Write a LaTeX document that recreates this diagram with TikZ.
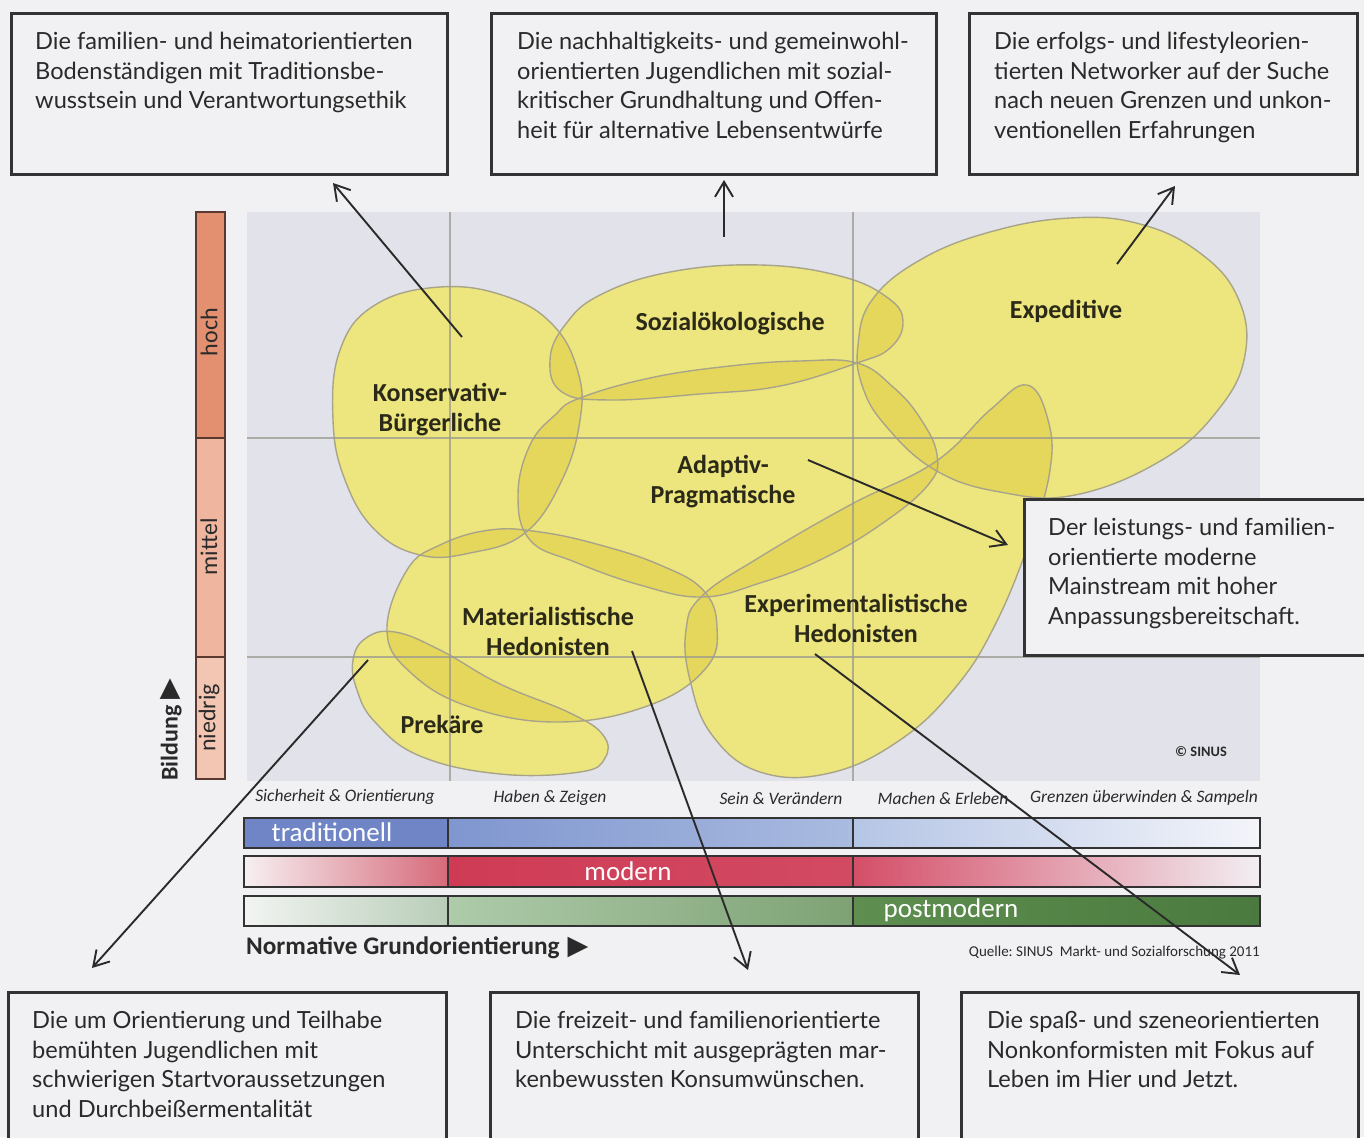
\documentclass[tikz,border=0pt]{standalone}
\usepackage{fontspec}
\setmainfont{Lato}
\newfontfamily\calibri{Carlito}
\newfontfamily\symf{DejaVu Sans}
\usetikzlibrary{arrows.meta}
\definecolor{pagebg}{HTML}{F1F1F3}
\definecolor{chartbg}{HTML}{E2E3EA}
\definecolor{blobbase}{HTML}{FAFBB2}
\definecolor{blobdark}{HTML}{D7BE1E}
\definecolor{blobline}{HTML}{A8A48A}
\definecolor{gridc}{HTML}{9A9A90}
\definecolor{boxline}{HTML}{333333}
\definecolor{txt}{HTML}{2A2A2A}
\definecolor{lbl}{HTML}{2B2A18}
\definecolor{hochc}{HTML}{E2906F}
\definecolor{mittelc}{HTML}{EFB59E}
\definecolor{niedrigc}{HTML}{F3C6B3}
\definecolor{barline}{HTML}{5A3A30}
\definecolor{tradblue}{HTML}{6F85C6}
\def\blobK{plot[smooth cycle, tension=0.7] coordinates {(440,287) (505,296) (553,325) (578,372) (580,420) (562,480) (525,533) (470,553) (420,555) (375,530) (345,480) (333,420) (340,350) (375,305)}}
\def\blobS{plot[smooth cycle, tension=0.7] coordinates {(550,360) (565,325) (600,295) (670,272) (760,265) (840,276) (888,298) (903,322) (890,348) (857,363) (780,386) (700,394) (610,400) (562,392)}}
\def\blobE{plot[smooth cycle, tension=0.7] coordinates {(858,345) (872,300) (920,260) (990,232) (1070,218) (1140,224) (1200,253) (1238,298) (1245,355) (1218,410) (1162,460) (1075,495) (1000,492) (935,470) (885,425) (862,385)}}
\def\blobA{plot[smooth cycle, tension=0.7] coordinates {(580,398) (650,378) (730,366) (800,361) (857,363) (893,387) (920,418) (937,455) (928,485) (880,525) (820,560) (760,583) (702,597) (640,585) (575,562) (530,540) (518,495) (530,445) (555,415)}}
\def\blobM{plot[smooth cycle, tension=0.7] coordinates {(407,570) (440,545) (490,530) (540,532) (600,545) (660,565) (703,590) (717,627) (706,668) (650,705) (560,722) (470,707) (410,672) (387,630)}}
\def\blobX{plot[smooth cycle, tension=0.7] coordinates {(1027,385) (1048,420) (1050,470) (1030,540) (995,625) (955,688) (900,740) (830,773) (760,772) (712,735) (690,680) (686,630) (702,596) (760,557) (850,505) (935,462) (990,410)}}
\def\blobP{plot[smooth cycle, tension=0.7] coordinates {(353,660) (366,638) (395,632) (440,650) (500,684) (570,713) (603,735) (605,758) (580,772) (500,774) (420,756) (375,722) (357,690)}}
\begin{document}
\begin{tikzpicture}[x=1pt,y=-1pt,
  infobox/.style={draw=boxline, line width=2.6pt, fill=pagebg, anchor=north west, inner sep=0pt},
  infotext/.style={anchor=north west, inner sep=0pt, align=left, text=txt, font=\fontsize{23.6}{29.7}\selectfont},
  blobfirst/.style={fill=blobbase},
  blobshade/.style={fill=blobdark, fill opacity=0.35},
  blobedge/.style={draw=blobline, line width=1.4pt},
  bloblabel/.style={font=\calibri\bfseries\fontsize{26}{30}\selectfont, text=lbl, align=center, inner sep=0pt},
  gridline/.style={draw=gridc, line width=1.3pt, opacity=0.75},
  axislabel/.style={font=\calibri\itshape\fontsize{17.5}{19}\selectfont, text=txt, inner sep=0pt},
  barbox/.style={draw=boxline, line width=1.6pt},
  bartext/.style={font=\calibri\fontsize{27}{30}\selectfont, text=white, inner sep=0pt},
  levelbox/.style={draw=barline, line width=1.4pt},
  leveltext/.style={font=\calibri\fontsize{24}{26}\selectfont, text=txt, rotate=90, inner sep=0pt},
  conn/.style={draw=txt, line width=1.9pt, -{Straight Barb[length=15pt,width=18pt,line width=1.9pt]}}
]
\useasboundingbox (0,0) rectangle (1364,1137);
\fill[pagebg] (0,0) rectangle (1364,1137);

% chart background
\fill[chartbg] (247,212) rectangle (1260,781);

% blobs: opaque base, translucent shade (darker overlaps), outlines
\foreach \b in {\blobK,\blobS,\blobE,\blobA,\blobM,\blobX,\blobP} {\path[blobfirst] \b;}
\foreach \b in {\blobK,\blobS,\blobE,\blobA,\blobM,\blobX,\blobP} {\path[blobshade] \b;}
\foreach \b in {\blobK,\blobS,\blobE,\blobA,\blobM,\blobX,\blobP} {\path[blobedge] \b;}

% grid lines
\draw[gridline] (450,212) -- (450,781);
\draw[gridline] (853,212) -- (853,781);
\draw[gridline] (247,438) -- (1260,438);
\draw[gridline] (247,657) -- (1260,657);

% blob labels
\node[bloblabel] (lk) at (440,410) {Konservativ-\\Bürgerliche};
\node[bloblabel] (ls) at (730,324) {Sozialökologische};
\node[bloblabel] (le) at (1066,311) {Expeditive};
\node[bloblabel] (la) at (723,482) {Adaptiv-\\Pragmatische};
\node[bloblabel] (lm) at (548,631) {Materialistische\\Hedonisten};
\node[bloblabel] (lx) at (856,618) {Experimentalistische\\Hedonisten};
\node[bloblabel] (lp) at (442,724) {Prekäre};
\node[font=\calibri\bfseries\fontsize{14.4}{16}\selectfont, text=txt, inner sep=0pt] (copy) at (1201,752) {© SINUS};

% education bar
\draw[levelbox, fill=hochc] (196,212) rectangle (225,438);
\draw[levelbox, fill=mittelc] (196,438) rectangle (225,657);
\draw[levelbox, fill=niedrigc] (196,657) rectangle (225,779);
\node[leveltext] (hoch) at (209,332) {hoch};
\node[leveltext] (mittel) at (209,547) {mittel};
\node[leveltext] (niedrig) at (209,718) {niedrig};
\node[font=\calibri\bfseries\fontsize{24}{26}\selectfont, text=txt, rotate=90, anchor=west, inner sep=0pt] (bildung) at (171,781) {Bildung\hspace{6pt}{\symf\fontsize{27}{28}\selectfont ▶}};

% value labels
\node[axislabel] (v1) at (345,797) {Sicherheit \& Orientierung};
\node[axislabel] (v2) at (550,798) {Haben \& Zeigen};
\node[axislabel] (v3) at (781,798) {Sein \& Verändern};
\node[axislabel] (v4) at (943,798) {Machen \& Erleben};
\node[axislabel] (v5) at (1144,798) {Grenzen überwinden \& Sampeln};

% bars
\fill[tradblue] (244,818) rectangle (448,848);
\shade[left color={rgb,255:red,127;green,150;blue,207}, right color={rgb,255:red,170;green,187;blue,224}] (448,818) rectangle (853,848);
\shade[left color={rgb,255:red,181;green,197;blue,229}, right color={rgb,255:red,244;green,245;blue,250}] (853,818) rectangle (1260,848);
\draw[barbox] (244,818) rectangle (1260,848) (448,818) -- (448,848) (853,818) -- (853,848);

\shade[left color={rgb,255:red,246;green,240;blue,242}, right color={rgb,255:red,214;green,106;blue,122}] (244,856) rectangle (448,887);
\shade[left color={rgb,255:red,207;green,59;blue,85}, right color={rgb,255:red,210;green,74;blue,98}] (448,856) rectangle (853,887);
\shade[left color={rgb,255:red,212;green,78;blue,104}, right color={rgb,255:red,242;green,238;blue,242}] (853,856) rectangle (1260,887);
\draw[barbox] (244,856) rectangle (1260,887) (448,856) -- (448,887) (853,856) -- (853,887);

\shade[left color={rgb,255:red,242;green,244;blue,242}, right color={rgb,255:red,184;green,205;blue,184}] (244,896) rectangle (448,926);
\shade[left color={rgb,255:red,174;green,203;blue,170}, right color={rgb,255:red,126;green,162;blue,116}] (448,896) rectangle (853,926);
\shade[left color={rgb,255:red,94;green,142;blue,80}, right color={rgb,255:red,75;green,122;blue,62}] (853,896) rectangle (1260,926);
\draw[barbox] (244,896) rectangle (1260,926) (448,896) -- (448,926) (853,896) -- (853,926);

\node[bartext] (trad) at (332,832) {traditionell};
\node[bartext] (mod) at (628,871) {modern};
\node[bartext] (post) at (951,910) {postmodern};

\node[font=\calibri\bfseries\fontsize{25.3}{28}\selectfont, text=txt, anchor=west, inner sep=0pt] (norm) at (246,948) {Normative Grundorientierung\hspace{8pt}{\symf\fontsize{27}{28}\selectfont ▶}};
\node[font=\calibri\fontsize{15}{17}\selectfont, text=txt, anchor=east, inner sep=0pt] (quelle) at (1260,953) {Quelle:\ SINUS\ \ Markt- und Sozialforschung 2011};

% info boxes
\node[infobox, minimum width=436pt, minimum height=161pt] (b1) at (10,12) {};
\node[infotext] (t1) at (35,32) {Die familien- und heimatorientierten\\Bodenständigen mit Traditionsbe-\\wusstsein und Verantwortungsethik};
\node[infobox, minimum width=445pt, minimum height=161pt] (b2) at (490,12) {};
\node[infotext] (t2) at (517,32) {Die nachhaltigkeits- und gemeinwohl-\\orientierten Jugendlichen mit sozial-\\kritischer Grundhaltung und Offen-\\heit für alternative Lebensentwürfe};
\node[infobox, minimum width=388pt, minimum height=161pt] (b3) at (968,12) {};
\node[infotext] (t3) at (994,32) {Die erfolgs- und lifestyleorien-\\tierten Networker auf der Suche\\nach neuen Grenzen und unkon-\\ventionellen Erfahrungen};
\node[infobox, minimum width=345pt, minimum height=156pt] (b4) at (1023,498) {};
\node[infotext] (t4) at (1048,518) {Der leistungs- und familien-\\orientierte moderne\\Mainstream mit hoher\\Anpassungsbereitschaft.};
\node[infobox, minimum width=438pt, minimum height=160pt] (b5) at (7,991) {};
\node[infotext] (t5) at (32,1011) {Die um Orientierung und Teilhabe\\bemühten Jugendlichen mit\\schwierigen Startvoraussetzungen\\und Durchbeißermentalität};
\node[infobox, minimum width=428pt, minimum height=160pt] (b6) at (489,991) {};
\node[infotext] (t6) at (515,1011) {Die freizeit- und familienorientierte\\Unterschicht mit ausgeprägten mar-\\kenbewussten Konsumwünschen.};
\node[infobox, minimum width=397pt, minimum height=160pt] (b7) at (960,991) {};
\node[infotext] (t7) at (987,1011) {Die spaß- und szeneorientierten\\Nonkonformisten mit Fokus auf\\Leben im Hier und Jetzt.};

% connectors
\coordinate (s1) at (462,337); \coordinate (e1) at (333,183);
\coordinate (s2) at (724,237); \coordinate (e2) at (724,180);
\coordinate (s3) at (1117,264); \coordinate (e3) at (1175,186);
\coordinate (s4) at (808,460); \coordinate (e4) at (1008,545);
\coordinate (s5) at (368,660); \coordinate (e5) at (92,968);
\coordinate (s6) at (632,651); \coordinate (e6) at (748,970);
\coordinate (s7) at (815,654); \coordinate (e7) at (1240,975);
\draw[conn] (s1) -- (e1);
\draw[conn] (s2) -- (e2);
\draw[conn] (s3) -- (e3);
\draw[conn] (s4) -- (e4);
\draw[conn] (s5) -- (e5);
\draw[conn] (s6) -- (e6);
\draw[conn] (s7) -- (e7);
\end{tikzpicture}
\end{document}
